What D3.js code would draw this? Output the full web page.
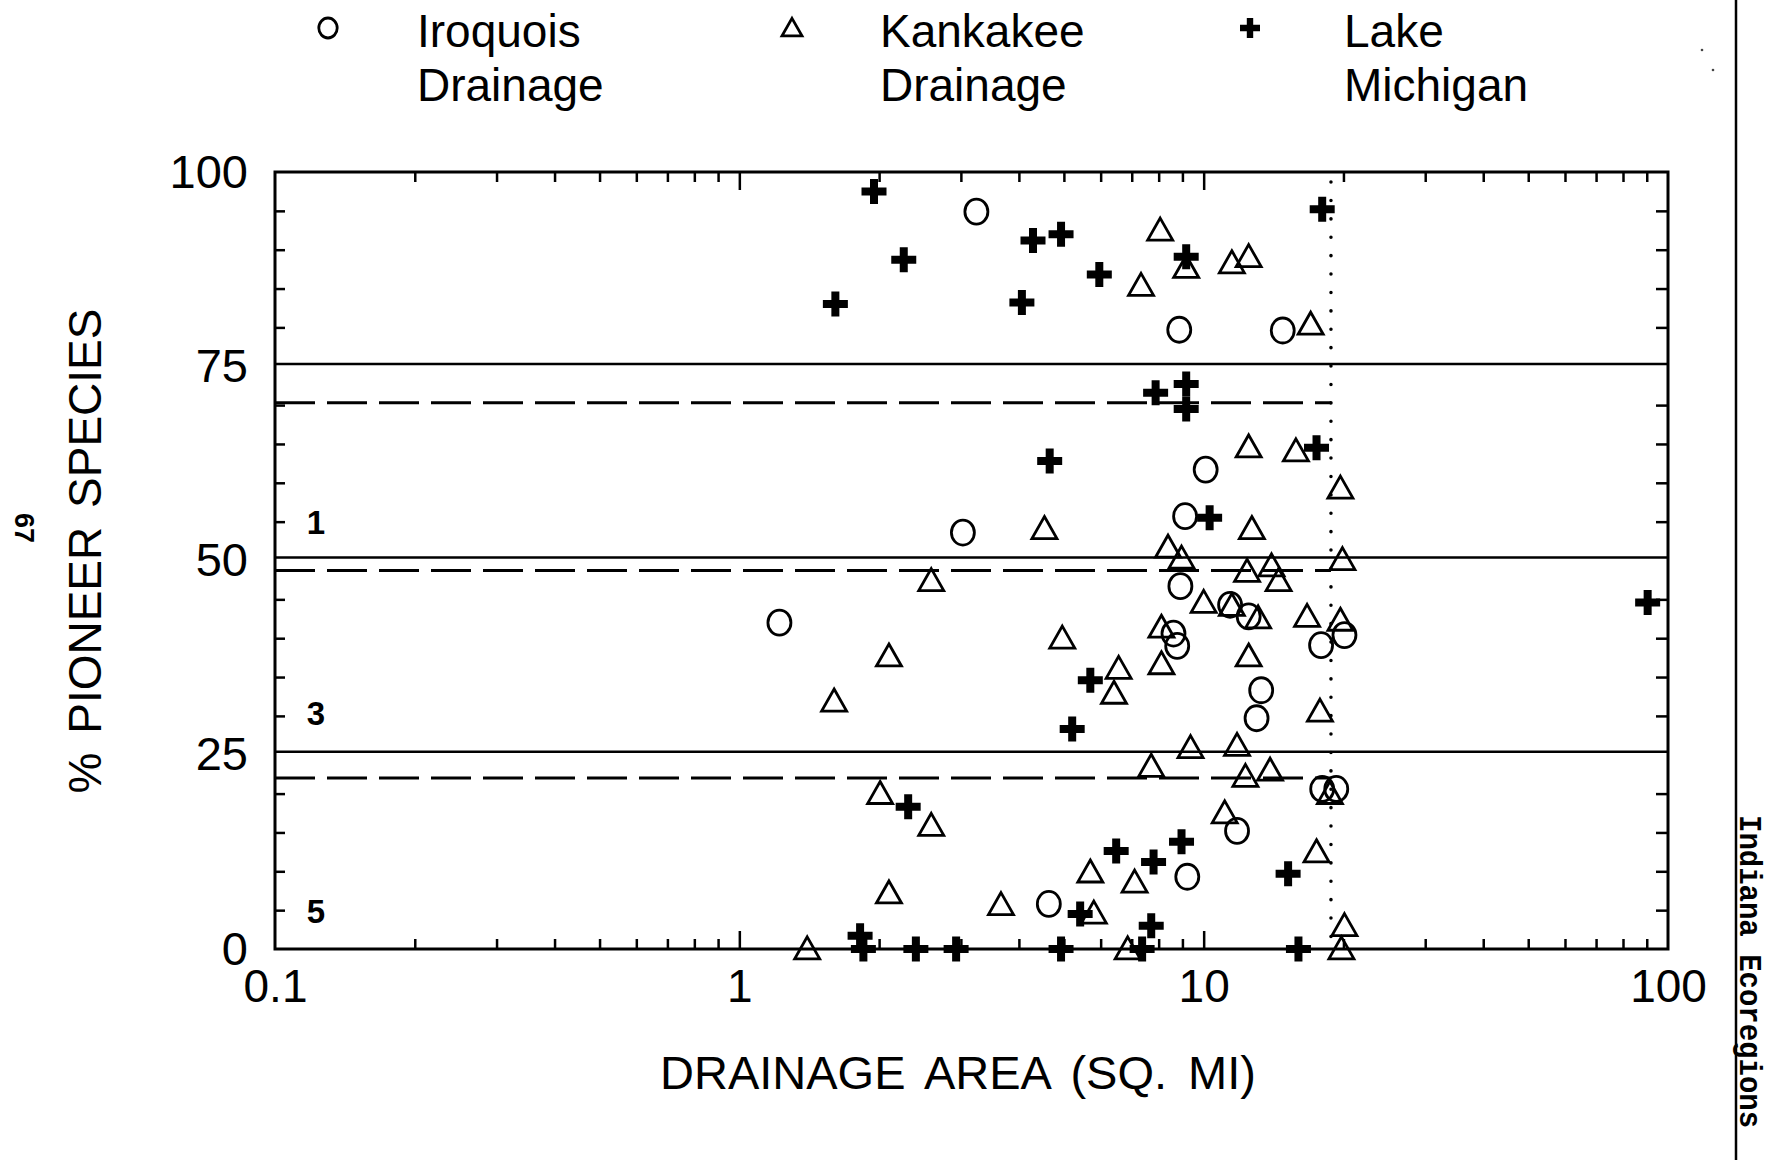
<!DOCTYPE html>
<html>
<head>
<meta charset="utf-8">
<script src="https://cdn.jsdelivr.net/npm/d3@7"></script>
<style>
  html, body { margin: 0; padding: 0; background: #fff; }
  svg { display: block; }
  text { font-family: "Liberation Sans", Arial, sans-serif; fill: #000; }
</style>
</head>
<body>
<script>
// ---------------- DATA ----------------
const xTickValues = [0.1, 1, 10, 100];
const xTickLabels = ["0.1", "1", "10", "100"];
const yTickValues = [0, 25, 50, 75, 100];
const yTickLabels = ["0", "25", "50", "75", "100"];
const yMinorTicks = [5, 10, 15, 20, 30, 35, 40, 45, 55, 60, 65, 70, 80, 85, 90, 95];

const solidLines = [75.3, 50.4, 25.4];
const dashedLines = [70.3, 48.7, 22.0];
const dottedLineX = 18.8;

const classLabels = ["1", "3", "5"];
const classLabelY = [55.0, 30.4, 4.9];

const seriesNames = [["Iroquois", "Drainage"], ["Kankakee", "Drainage"], ["Lake", "Michigan"]];
const seriesShapes = ["circle", "triangle", "plus"];

// Iroquois Drainage: [drainage area (sq mi), % pioneer species]
const iroquois = [
  [3.24, 94.9], [8.86, 79.7], [14.8, 79.6], [10.1, 61.7], [9.12, 55.7], [3.03, 53.6],
  [8.91, 46.7], [1.22, 42.0], [11.4, 44.3], [12.5, 42.8], [8.61, 40.6], [8.77, 39.0],
  [17.9, 39.1], [20.1, 40.4], [13.3, 33.3], [13.0, 29.7], [18.0, 20.6], [19.3, 20.6],
  [11.8, 15.2], [9.22, 9.3], [4.64, 5.8]
];

// Kankakee Drainage
const kankakee = [
  [8.06, 92.5], [9.17, 87.7], [11.5, 88.3], [12.5, 89.1], [7.33, 85.4], [17.0, 80.4],
  [12.5, 64.6], [15.8, 64.1], [19.7, 59.3], [4.54, 54.1], [12.7, 54.1], [8.38, 51.7],
  [8.96, 50.3], [19.9, 50.1], [12.4, 48.6], [14.0, 49.3], [14.5, 47.4], [2.59, 47.4],
  [10.0, 44.6], [11.5, 44.2], [13.1, 42.6], [16.7, 42.8], [19.7, 42.3], [8.11, 41.4],
  [4.96, 40.0], [12.5, 37.7], [2.10, 37.7], [8.11, 36.7], [6.56, 36.1], [6.41, 32.9],
  [1.60, 31.9], [17.8, 30.6], [9.37, 25.9], [11.8, 26.2], [7.71, 23.5], [13.9, 23.0],
  [12.3, 22.2], [18.7, 20.0], [2.01, 20.0], [2.59, 15.9], [11.1, 17.5], [17.5, 12.5],
  [5.70, 9.9], [7.10, 8.6], [2.10, 7.2], [3.66, 5.7], [5.80, 4.6], [20.1, 3.0],
  [1.40, 0], [6.86, 0], [19.8, 0]
];

// Lake Michigan
const lakeMichigan = [
  [1.95, 97.5], [1.61, 83.0], [2.26, 88.7], [4.29, 91.2], [4.93, 92.0], [5.96, 86.8],
  [4.06, 83.2], [9.17, 89.1], [18.0, 95.2], [7.88, 71.6], [9.17, 72.7], [9.17, 69.5],
  [4.66, 62.8], [10.3, 55.5], [17.5, 64.5], [90.4, 44.6], [5.70, 34.6], [5.21, 28.3],
  [2.31, 18.3], [6.48, 12.6], [8.96, 13.8], [7.80, 11.2], [15.2, 9.7], [5.42, 4.5],
  [7.71, 3.0], [1.82, 1.7], [1.85, 0], [2.40, 0], [2.93, 0], [4.93, 0], [7.37, 0], [16.0, 0]
];

const allSeries = [iroquois, kankakee, lakeMichigan];

// ---------------- LAYOUT ----------------
const W = 1766, H = 1160;
const L = 275, R = 1668, T = 172, B = 949;

const svg = d3.select("body").append("svg").attr("width", W).attr("height", H);

const x = d3.scaleLog().domain([0.1, 100]).range([L, R]);
const y = d3.scaleLinear().domain([0, 100]).range([B, T]);

// marker helpers
function markerPath(type, s) {
  if (type === "triangle") {
    const w = 25 * s, h = 22 * s;
    return `M0,${-h * 0.55}L${w / 2},${h * 0.45}L${-w / 2},${h * 0.45}Z`;
  }
  if (type === "plus") {
    const a = 12.5 * s, t = 4 * s;
    return `M${-t},${-a}H${t}V${-t}H${a}V${t}H${t}V${a}H${-t}V${t}H${-a}V${-t}H${-t}Z`;
  }
  return null;
}
function drawMarker(g, type, s) {
  if (type === "circle") {
    g.append("ellipse").attr("rx", 11.5 * s).attr("ry", 12.5 * s)
      .attr("fill", "none").attr("stroke", "#000").attr("stroke-width", 2.8);
  } else if (type === "triangle") {
    g.append("path").attr("d", markerPath("triangle", s))
      .attr("fill", "none").attr("stroke", "#000").attr("stroke-width", 2.8)
      .attr("stroke-linejoin", "miter");
  } else {
    g.append("path").attr("d", markerPath("plus", s)).attr("fill", "#000");
  }
}

// ---------------- REFERENCE LINES ----------------
svg.append("g").selectAll("line").data(solidLines).join("line")
  .attr("x1", L).attr("x2", R)
  .attr("y1", d => y(d)).attr("y2", d => y(d))
  .attr("stroke", "#000").attr("stroke-width", 2.5);

svg.append("g").selectAll("line").data(dashedLines).join("line")
  .attr("x1", L).attr("x2", x(dottedLineX))
  .attr("y1", d => y(d)).attr("y2", d => y(d))
  .attr("stroke", "#000").attr("stroke-width", 3)
  .attr("stroke-dasharray", "40,12");

svg.append("line")
  .attr("x1", x(dottedLineX)).attr("x2", x(dottedLineX))
  .attr("y1", y(100) + 10).attr("y2", y(0))
  .attr("stroke", "#000").attr("stroke-width", 3.5)
  .attr("stroke-linecap", "round")
  .attr("stroke-dasharray", "0.1,18.3");

// ---------------- AXES / TICKS ----------------
const minorX = [];
[0.1, 1, 10].forEach(dec => { for (let k = 2; k <= 9; k++) minorX.push(+(dec * k).toPrecision(3)); });
const majorX = [1, 10];

function styleAxis(g) {
  g.select(".domain").remove();
  g.selectAll(".tick line").attr("stroke", "#000").attr("stroke-width", 2.5);
}

svg.append("g").attr("transform", `translate(0,${B})`)
  .call(d3.axisBottom(x).tickValues(minorX).tickSize(-10).tickFormat(""))
  .call(styleAxis);
svg.append("g").attr("transform", `translate(0,${B})`)
  .call(d3.axisBottom(x).tickValues(majorX).tickSize(-18).tickFormat(""))
  .call(styleAxis);
svg.append("g").attr("transform", `translate(0,${T})`)
  .call(d3.axisTop(x).tickValues(minorX).tickSize(-10).tickFormat(""))
  .call(styleAxis);
svg.append("g").attr("transform", `translate(0,${T})`)
  .call(d3.axisTop(x).tickValues(majorX).tickSize(-18).tickFormat(""))
  .call(styleAxis);
svg.append("g").attr("transform", `translate(${L},0)`)
  .call(d3.axisLeft(y).tickValues(yMinorTicks).tickSize(-10).tickFormat(""))
  .call(styleAxis);
svg.append("g").attr("transform", `translate(${R},0)`)
  .call(d3.axisRight(y).tickValues(yMinorTicks).tickSize(-12).tickFormat(""))
  .call(styleAxis);

// tick labels
const xLab = svg.append("g").attr("transform", `translate(0,${B})`)
  .call(d3.axisBottom(x).tickValues(xTickValues).tickSize(0).tickPadding(20)
    .tickFormat((d, i) => xTickLabels[i]));
xLab.select(".domain").remove();
xLab.selectAll("text").attr("font-size", 46).attr("font-family", "Liberation Sans, Arial, sans-serif").attr("fill", "#000");

const yLab = svg.append("g").attr("transform", `translate(${L},0)`)
  .call(d3.axisLeft(y).tickValues(yTickValues).tickSize(0).tickPadding(27)
    .tickFormat((d, i) => yTickLabels[i]));
yLab.select(".domain").remove();
yLab.selectAll("text").attr("font-size", 47).attr("font-family", "Liberation Sans, Arial, sans-serif").attr("fill", "#000");

// frame
svg.append("rect").attr("x", L).attr("y", T).attr("width", R - L).attr("height", B - T)
  .attr("fill", "none").attr("stroke", "#000").attr("stroke-width", 3);

// class labels
svg.append("g").selectAll("text").data(classLabels).join("text")
  .attr("x", L + 41).attr("y", (d, i) => y(classLabelY[i]))
  .attr("dy", "0.36em")
  .attr("text-anchor", "middle")
  .attr("font-size", 33).attr("font-weight", "bold")
  .text(d => d);

// ---------------- DATA MARKERS ----------------
allSeries.forEach((data, si) => {
  const g = svg.append("g");
  data.forEach(d => {
    const m = g.append("g").attr("transform", `translate(${x(d[0])},${y(d[1])})`);
    drawMarker(m, seriesShapes[si], 1);
  });
});

// ---------------- LEGEND ----------------
const legendX = [328, 792, 1250];
const legendTextX = [417, 880, 1344];
seriesNames.forEach((lines, i) => {
  const m = svg.append("g").attr("transform", `translate(${legendX[i]},28)`);
  drawMarker(m, seriesShapes[i], 0.8);
  svg.append("text").attr("x", legendTextX[i]).attr("y", 47).attr("font-size", 46).text(lines[0]);
  svg.append("text").attr("x", legendTextX[i]).attr("y", 101).attr("font-size", 46).text(lines[1]);
});

// ---------------- AXIS TITLES ----------------
svg.append("text").attr("x", 958).attr("y", 1089).attr("text-anchor", "middle")
  .attr("font-size", 47).attr("word-spacing", 8).text("DRAINAGE AREA (SQ. MI)");

svg.append("text").attr("transform", "translate(101,551) rotate(-90)")
  .attr("text-anchor", "middle").attr("font-size", 46).attr("word-spacing", 6)
  .text("% PIONEER SPECIES");

// ---------------- PAGE DECORATIONS ----------------
svg.append("text").attr("transform", "translate(15,528) rotate(90)")
  .attr("text-anchor", "middle").attr("font-size", 27).attr("font-weight", "bold")
  .text("67");

svg.append("line").attr("x1", 1736).attr("x2", 1736).attr("y1", 0).attr("y2", H)
  .attr("stroke", "#000").attr("stroke-width", 2.5);

svg.append("text").attr("transform", "translate(1740,815) rotate(90) scale(1,1.1)")
  .style("font-family", "'Liberation Mono', 'Courier New', monospace")
  .attr("font-size", 29).attr("font-weight", "bold")
  .text("Indiana Ecoregions");

// scan specks
svg.append("g").selectAll("circle").data([[1702, 50], [1713, 70]]).join("circle")
  .attr("cx", d => d[0]).attr("cy", d => d[1]).attr("r", 1.3).attr("fill", "#444");
</script>
</body>
</html>
